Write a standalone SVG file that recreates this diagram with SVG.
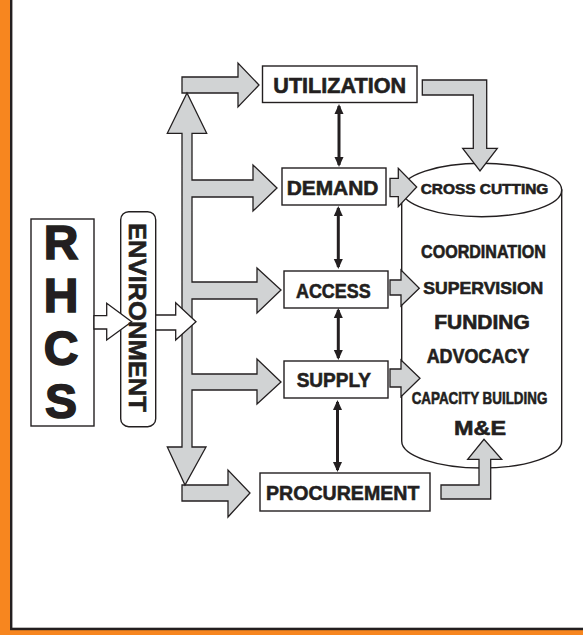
<svg xmlns="http://www.w3.org/2000/svg" width="583" height="635" viewBox="0 0 583 635">
<defs>
<style>
.box{fill:#fff;stroke:#231f20;stroke-width:1.4}
.garrow{fill:#d1d3d4;stroke:#231f20;stroke-width:1.3;stroke-linejoin:miter}
.warrow{fill:#fff;stroke:#231f20;stroke-width:1.3}
.t{font-family:"Liberation Sans",Arial,sans-serif;font-weight:bold;fill:#231f20;stroke:#231f20;stroke-width:0.6;text-anchor:middle}
.big{stroke-width:1.6;writing-mode:vertical-rl;text-orientation:upright}
.dbl{stroke:#231f20;stroke-width:3;marker-start:url(#ah);marker-end:url(#ah)}
</style>
<marker id="ah" viewBox="0 0 10 10" refX="8" refY="5" markerWidth="10" markerHeight="10" markerUnits="userSpaceOnUse" orient="auto-start-reverse">
<path d="M0,0.5 L10,5 L0,9.5 Z" fill="#231f20"/>
</marker>
</defs>
<rect x="0" y="0" width="583" height="635" fill="#fff"/>
<g id="frame">
<rect x="0" y="0" width="10" height="635" fill="#f7861f"/>
<rect x="0" y="630" width="583" height="5" fill="#f7861f"/>
<rect x="10" y="0" width="2.4" height="630" fill="#231f20"/>
<rect x="10" y="627.7" width="573" height="2.5" fill="#231f20"/>
</g>
<g id="connectors">
<polygon class="garrow" points="182,77 238,77 238,63 259,85 238,107 238,93 182,93"/>
<polygon class="garrow" points="182,485 228,485 228,470 250,493 228,517 228,501 182,501"/>
<polygon class="garrow" points="187,93 206.7,133.3 192,133.3 192,180 253,180 253,165 277,188 253,211 253,197 192,197 192,282 257,282 257,268 281,290 257,313 257,299 192,299 192,374 257,374 257,359 281,382 257,404 257,390 192,390 192,447 206,447 185,485 167.3,447 182,447 182,133.3 167.3,133.3"/>
<line class="dbl" x1="339" y1="106" x2="339" y2="165"/>
<line class="dbl" x1="338.3" y1="208" x2="338.3" y2="267"/>
<line class="dbl" x1="338.3" y1="310" x2="338.3" y2="358"/>
<line class="dbl" x1="337.5" y1="402" x2="337.5" y2="470"/>
</g>
<g id="cylinder">
<path class="box" d="M401.7,190 L401.7,441 A80,27 0 0 0 561.7,441 L561.7,190 Z"/>
<ellipse class="box" cx="481.7" cy="190" rx="80" ry="26.7"/>
</g>
<g id="cyl-arrows">
<polygon class="garrow" points="390,178.3 398.3,178.3 398.3,168.3 416.7,187 398.3,206.7 398.3,196.7 390,196.7"/>
<polygon class="garrow" points="390,280 401,280 401,270 419.3,288.3 401,306 401,295 390,295"/>
<polygon class="garrow" points="390,369 401,369 401,360 420,378.3 401,396.7 401,387 390,387"/>
<polygon class="garrow" points="422.3,80 486.7,80 486.7,148.3 497.3,148.3 480,171 462.7,148.3 473.3,148.3 473.3,95 422.3,95"/>
<polygon class="garrow" points="441,485 479,485 479,459.3 467.7,459.3 484,439.3 501.7,459.3 490.7,459.3 490.7,499 441,499"/>
</g>
<g id="cross-cutting">
<text class="t" x="484.5" y="194" font-size="15" textLength="127.7" lengthAdjust="spacingAndGlyphs">CROSS CUTTING</text>
<text class="t" x="483.4" y="258.3" font-size="18.5" textLength="124.7" lengthAdjust="spacingAndGlyphs">COORDINATION</text>
<text class="t" x="483.3" y="294" font-size="17" textLength="120" lengthAdjust="spacingAndGlyphs">SUPERVISION</text>
<text class="t" x="482" y="329" font-size="19.5" textLength="95.7" lengthAdjust="spacingAndGlyphs">FUNDING</text>
<text class="t" x="478" y="363.3" font-size="19.5" textLength="102.7" lengthAdjust="spacingAndGlyphs">ADVOCACY</text>
<text class="t" x="479.5" y="404" font-size="17" textLength="135.7" lengthAdjust="spacingAndGlyphs">CAPACITY BUILDING</text>
<text class="t" x="480" y="435" font-size="21" textLength="52" lengthAdjust="spacingAndGlyphs">M&amp;E</text>
</g>
<g id="utilization">
<rect class="box" x="262.5" y="66" width="154.5" height="36.5"/>
<text class="t" x="339.7" y="93.3" font-size="21.5" textLength="132.7" lengthAdjust="spacingAndGlyphs">UTILIZATION</text>
</g>
<g id="demand">
<rect class="box" x="282" y="168" width="104" height="37"/>
<text class="t" x="332.5" y="195" font-size="21" textLength="91.7" lengthAdjust="spacingAndGlyphs">DEMAND</text>
</g>
<g id="access">
<rect class="box" x="284" y="271" width="104" height="37"/>
<text class="t" x="333.3" y="297.7" font-size="21" textLength="74.7" lengthAdjust="spacingAndGlyphs">ACCESS</text>
</g>
<g id="supply">
<rect class="box" x="284" y="361" width="104" height="37"/>
<text class="t" x="333.8" y="386.7" font-size="21" textLength="74.3" lengthAdjust="spacingAndGlyphs">SUPPLY</text>
</g>
<g id="procurement">
<rect class="box" x="260" y="473" width="170" height="38"/>
<text class="t" x="342.7" y="500" font-size="21" textLength="153.3" lengthAdjust="spacingAndGlyphs">PROCUREMENT</text>
</g>
<g id="rhcs">
<rect class="box" x="31" y="219" width="63" height="207"/>
<text class="t big" x="61" y="321.5" font-size="48">RHCS</text>
</g>
<g id="environment">
<rect class="box" x="120.7" y="211.7" width="35" height="215" rx="8" ry="8"/>
<polygon class="warrow" points="94,315.7 106.7,315.7 106.7,303.3 131.7,321.7 106.7,340 106.7,329 94,329"/>
<polygon class="warrow" points="155.7,315 175.7,315 175.7,302.7 196,321.7 175.7,340 175.7,330 155.7,330"/>
<text class="t" transform="translate(128.5,317.4) rotate(90)" x="0" y="0" font-size="24" textLength="189" lengthAdjust="spacingAndGlyphs">ENVIRONMENT</text>
</g>
</svg>
